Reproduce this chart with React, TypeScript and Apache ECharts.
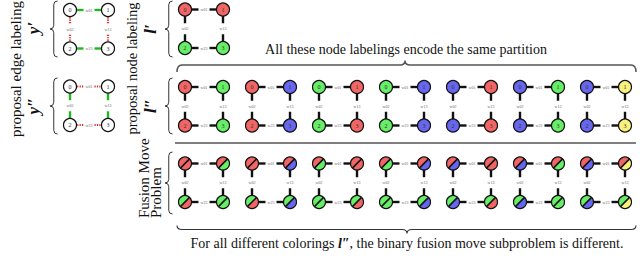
import React, { useEffect, useRef } from "react";
import * as echarts from "echarts";

// ---------------- data ----------------
const NODE_IDS = ["0", "1", "2", "3"];
const EDGES: [number, number][] = [[0, 1], [0, 2], [1, 3], [2, 3]];
const EDGE_LABELS = ["w01", "w02", "w13", "w23"];
// edge labelings: 1 = cut (red dotted), 0 = join (green)
const Y_PRIME = [0, 1, 1, 0];
const Y_DOUBLE_PRIME = [1, 0, 0, 1];
// node labelings
const L_PRIME = ["R", "R", "G", "G"];
const L_DOUBLE_PRIME = [
  ["R", "G", "R", "G"],
  ["R", "B", "R", "B"],
  ["G", "R", "G", "R"],
  ["G", "B", "G", "B"],
  ["B", "R", "B", "R"],
  ["B", "G", "B", "G"],
  ["B", "Y", "B", "Y"],
];
const TEXT_TOP = "All these node labelings encode the same partition";
const TEXT_BOTTOM_A = "For all different colorings ";
const TEXT_BOTTOM_L = "l\u2033";
const TEXT_BOTTOM_B = ", the binary fusion move subproblem is different.";
const TEXT_EDGE = "proposal edge labeling";
const TEXT_NODE = "proposal node labeling";
const TEXT_FUSION_1 = "Fusion Move";
const TEXT_FUSION_2 = "Problem";
const SYM_Y1 = "y\u2032";
const SYM_Y2 = "y\u2033";
const SYM_L1 = "l\u2032";
const SYM_L2 = "l\u2033";

const COLORS: Record<string, string> = {
  R: "#f26565",
  G: "#66ee66",
  B: "#6666ee",
  Y: "#f7f07c",
};

// ---------------- layout ----------------
const W = 640;
const H = 258;
const NODE_R = 6.5;
const NODE_DX = 38;
const NODE_DY = 38.5;
const EDGE_COL_X = 70;
const EDGE_ROWS_Y = [10, 86.5];
const NODE_COL_X0 = 185;
const COL_STEP = 67;
const ROW_LP = 9.5;
const ROW_LDP = 87;
const ROW_FUSION = 163.5;
const SERIF = "'Liberation Serif', 'Times New Roman', serif";

// kind: 0 edge labeling, 1 node labeling, 2 fusion
const BLOCKS: number[][] = [
  [EDGE_COL_X, EDGE_ROWS_Y[0], 0, 0],
  [EDGE_COL_X, EDGE_ROWS_Y[1], 0, 1],
  [NODE_COL_X0, ROW_LP, 1, -1],
  ...L_DOUBLE_PRIME.map((_, i) => [NODE_COL_X0 + i * COL_STEP, ROW_LDP, 1, i]),
  ...L_DOUBLE_PRIME.map((_, i) => [NODE_COL_X0 + i * COL_STEP, ROW_FUSION, 2, i]),
];

function txt(text: string, x: number, y: number, size: number, extra: any = {}) {
  return {
    type: "text",
    style: {
      text,
      x,
      y,
      fontSize: size,
      fontFamily: SERIF,
      fill: "#111",
      align: "center",
      textAlign: "center",
      verticalAlign: "middle",
      textVerticalAlign: "middle",
      ...extra,
    },
  };
}

const renderBlock = (_params: any, api: any) => {
  const x0 = api.value(0);
  const y0 = api.value(1);
  const kind = api.value(2);
  const idx = api.value(3);
  const pts = NODE_IDS.map((_, n) =>
    api.coord([x0 + (n % 2) * NODE_DX, y0 + Math.floor(n / 2) * NODE_DY])
  );
  const children: any[] = [];
  EDGES.forEach(([a, b], e) => {
    const p = pts[a];
    const q = pts[b];
    const dx = q[0] - p[0];
    const dy = q[1] - p[1];
    const len = Math.hypot(dx, dy);
    const ux = dx / len;
    const uy = dy / len;
    const mx = (p[0] + q[0]) / 2;
    const my = (p[1] + q[1]) / 2;
    let stroke = "#111";
    let lineWidth = 2.4;
    let lineDash: any = null;
    if (kind === 0) {
      const cut = (idx === 0 ? Y_PRIME : Y_DOUBLE_PRIME)[e];
      stroke = cut ? "#dd2a2a" : "#22b622";
      lineDash = cut ? [1.2, 1.2] : null;
      lineWidth = cut ? 2.2 : 2.4;
    }
    const gap = 5.5;
    const segs = [
      [p[0], p[1], mx - ux * gap, my - uy * gap],
      [mx + ux * gap, my + uy * gap, q[0], q[1]],
    ];
    segs.forEach((s) =>
      children.push({
        type: "line",
        shape: { x1: s[0], y1: s[1], x2: s[2], y2: s[3] },
        style: { stroke, lineWidth, lineDash },
      })
    );
    children.push(txt(EDGE_LABELS[e], mx, my, 4, { fill: "#666" }));
  });
  pts.forEach((p, n) => {
    if (kind === 2) {
      const upper = COLORS[L_PRIME[n]];
      const lower = COLORS[L_DOUBLE_PRIME[idx][n]];
      children.push({
        type: "sector",
        shape: { cx: p[0], cy: p[1], r: NODE_R, r0: 0, startAngle: (3 * Math.PI) / 4, endAngle: (7 * Math.PI) / 4, clockwise: true },
        style: { fill: upper },
      });
      children.push({
        type: "sector",
        shape: { cx: p[0], cy: p[1], r: NODE_R, r0: 0, startAngle: -Math.PI / 4, endAngle: (3 * Math.PI) / 4, clockwise: true },
        style: { fill: lower },
      });
      const c = NODE_R * Math.SQRT1_2;
      children.push({
        type: "line",
        shape: { x1: p[0] - c, y1: p[1] + c, x2: p[0] + c, y2: p[1] - c },
        style: { stroke: "#111", lineWidth: 1.5 },
      });
      children.push({
        type: "circle",
        shape: { cx: p[0], cy: p[1], r: NODE_R },
        style: { fill: "none", stroke: "#111", lineWidth: 1.2 },
      });
    } else {
      const fill =
        kind === 0 ? "#ffffff" : COLORS[(idx < 0 ? L_PRIME : L_DOUBLE_PRIME[idx])[n]];
      children.push({
        type: "circle",
        shape: { cx: p[0], cy: p[1], r: NODE_R },
        style: { fill, stroke: "#111", lineWidth: 1.2 },
      });
      children.push(txt(NODE_IDS[n], p[0], p[1] + 0.3, 6, { fill: "#333" }));
    }
  });
  return { type: "group", children };
};

// ---------------- braces ----------------
function vBrace(xt: number, xe: number, yT: number, yB: number) {
  const xm = (xt + xe) / 2;
  const r = xe - xm;
  const yM = (yT + yB) / 2;
  return `M${xe} ${yT} Q${xm} ${yT} ${xm} ${yT + r} L${xm} ${yM - r} Q${xm} ${yM} ${xt} ${yM} Q${xm} ${yM} ${xm} ${yM + r} L${xm} ${yB - r} Q${xm} ${yB} ${xe} ${yB}`;
}
function hBrace(x1: number, x2: number, xM: number, ye: number, yl: number, yt: number) {
  const r = 5;
  return `M${x1} ${ye} Q${x1} ${yl} ${x1 + r} ${yl} L${xM - r} ${yl} Q${xM} ${yl} ${xM} ${yt} Q${xM} ${yl} ${xM + r} ${yl} L${x2 - r} ${yl} Q${x2} ${yl} ${x2} ${ye}`;
}

const BRACES: [string, string, string, number][] = [
  ["braceY1", vBrace(50, 57.5, 1, 57), "#333", 1],
  ["braceY2", vBrace(50, 57.5, 78, 134), "#333", 1],
  ["braceL1", vBrace(165, 172.5, 1, 57), "#333", 1],
  ["braceL2", vBrace(165, 172.5, 78, 134), "#333", 1],
  ["braceF", vBrace(165, 172.5, 152, 214), "#333", 1],
  ["braceTop", hBrace(177, 636, 405, 72, 65, 60.5), "#555", 1.5],
  ["braceBot", hBrace(177, 636, 407, 225.5, 229.5, 233.5), "#333", 1.1],
];
BRACES.forEach(([name, d]) => {
  echarts.graphic.registerShape(name, echarts.graphic.extendPath(d, {}) as any);
});

function rot(text: string, x: number, y: number, size: number, extra: any = {}) {
  return {
    type: "text",
    x,
    y,
    rotation: Math.PI / 2,
    style: {
      text,
      x: 0,
      y: 0,
      fontSize: size,
      fontFamily: SERIF,
      fill: "#111",
      align: "center",
      textAlign: "center",
      verticalAlign: "middle",
      textVerticalAlign: "middle",
      ...extra,
    },
  };
}

export default function App() {
  const ref = useRef<HTMLDivElement>(null);
  useEffect(() => {
    if (!ref.current) return;
    const chart = echarts.init(ref.current, undefined, { renderer: "svg" });
    const symStyle = { fontStyle: "italic", fontWeight: "bold" };
    const graphic: any[] = [
      ...BRACES.map(([name, , stroke, lw]) => ({
        type: name,
        silent: true,
        style: { fill: "none", stroke, lineWidth: lw },
      })),
      {
        type: "line",
        shape: { x1: 175, y1: 143, x2: 636, y2: 143 },
        style: { stroke: "#555", lineWidth: 1.5 },
      },
      rot(TEXT_EDGE, 16, 69, 15),
      rot(TEXT_NODE, 132, 68.5, 14.5),
      rot(SYM_Y1, 33, 28, 17, symStyle),
      rot(SYM_Y2, 33, 106, 17, symStyle),
      rot(SYM_L1, 150, 29, 17, symStyle),
      rot(SYM_L2, 150, 106, 17, symStyle),
      rot(TEXT_FUSION_1, 144, 218, 15, { align: "left", textAlign: "left" }),
      rot(TEXT_FUSION_2, 156, 218, 15, { align: "left", textAlign: "left" }),
      txt(TEXT_TOP, 406, 49, 14),
      {
        type: "text",
        style: {
          text: `{a|${TEXT_BOTTOM_A}}{b|${TEXT_BOTTOM_L}}{a|${TEXT_BOTTOM_B}}`,
          x: 407,
          y: 243,
          align: "center",
          textAlign: "center",
          verticalAlign: "middle",
          textVerticalAlign: "middle",
          fontFamily: SERIF,
          fontSize: 14,
          fill: "#111",
          rich: {
            a: { fontFamily: SERIF, fontSize: 14, fill: "#111", color: "#111" },
            b: { fontFamily: SERIF, fontSize: 14, fontStyle: "italic", fontWeight: "bold", fill: "#111", color: "#111" },
          },
        },
      },
    ];
    chart.setOption({
      animation: false,
      grid: { left: 0, right: 0, top: 0, bottom: 0 },
      xAxis: { type: "value", min: 0, max: W, show: false },
      yAxis: { type: "value", min: 0, max: H, inverse: true, show: false },
      series: [
        {
          type: "custom",
          renderItem: renderBlock,
          data: BLOCKS,
          silent: true,
          clip: false,
        },
      ],
      graphic,
    });
    return () => chart.dispose();
  }, []);
  return (
    <div
      ref={ref}
      style={{ position: "absolute", left: 0, top: 0, width: W, height: H, background: "#fff" }}
    />
  );
}
